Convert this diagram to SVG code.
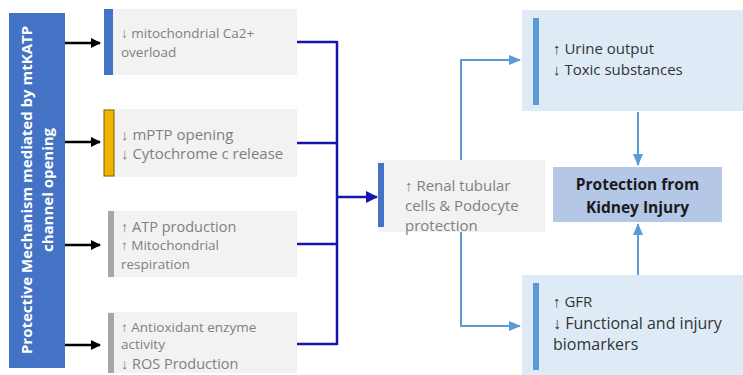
<svg xmlns="http://www.w3.org/2000/svg" width="743" height="375" viewBox="0 0 743 375">
<defs>
<style>
.gbox{fill:#f2f2f2}
.bbox{fill:#deebf7}
.gt{font-family:"Open Sans","Liberation Sans",sans-serif;fill:#808080}
.dt{font-family:"Open Sans","Liberation Sans",sans-serif;fill:#333}
.blk{stroke:#000;stroke-width:2.5;fill:none}
.dk{stroke:#1515b0;stroke-width:2.5;fill:none}
.lb{stroke:#5b9bd5;stroke-width:2;fill:none}
</style>
<marker id="mb" markerWidth="10" markerHeight="10" refX="9" refY="5" orient="auto" markerUnits="userSpaceOnUse"><path d="M0,0 L10,5 L0,10 z" fill="#000"/></marker>
<marker id="md" markerWidth="12" markerHeight="12" refX="11" refY="6" orient="auto" markerUnits="userSpaceOnUse"><path d="M0,0 L12,6 L0,12 z" fill="#1515b0"/></marker>
<marker id="ml" markerWidth="12" markerHeight="12" refX="11" refY="6" orient="auto" markerUnits="userSpaceOnUse"><path d="M0,1 L12,6 L0,11 z" fill="#5b9bd5"/></marker>
</defs>
<rect width="743" height="375" fill="#fff"/>

<g id="title">
<rect x="9" y="13" width="56" height="355" fill="#4472c4"/>
<text transform="translate(37,190) rotate(-90)" text-anchor="middle" font-family="'Open Sans','Liberation Sans',sans-serif" font-weight="bold" font-size="15" fill="#fff"><tspan x="0" y="-5">Protective Mechanism mediated by mtKATP</tspan><tspan x="0" y="16">channel opening</tspan></text>
</g>

<g id="n1">
<rect class="gbox" x="104" y="9" width="193" height="66"/>
<rect x="104" y="9" width="9" height="66" fill="#4472c4"/>
<text class="gt" x="121" y="38" font-size="13.5">↓ mitochondrial  Ca2+</text>
<text class="gt" x="121" y="57" font-size="13.5">overload</text>
</g>

<g id="n2">
<rect class="gbox" x="104" y="109" width="193" height="68"/>
<rect x="104" y="110" width="10" height="66" fill="#f0b400" stroke="#7f6000" stroke-width="1"/>
<text class="gt" x="121" y="140" font-size="15">↓ mPTP opening</text>
<text class="gt" x="121" y="159" font-size="15">↓ Cytochrome  c release</text>
</g>

<g id="n3">
<rect class="gbox" x="108" y="211" width="189" height="66"/>
<rect x="108" y="211" width="6" height="66" fill="#a6a6a6"/>
<text class="gt" x="121" y="232" font-size="14.5">↑ ATP production</text>
<text class="gt" x="121" y="250" font-size="13.5">↑ Mitochondrial</text>
<text class="gt" x="121" y="269" font-size="13.5">respiration</text>
</g>

<g id="n4">
<rect class="gbox" x="108" y="312" width="189" height="61"/>
<rect x="108" y="313" width="6" height="60" fill="#a6a6a6"/>
<text class="gt" x="121" y="332" font-size="13.5">↑ Antioxidant enzyme</text>
<text class="gt" x="121" y="349" font-size="13.5">activity</text>
<text class="gt" x="121" y="369" font-size="14.5">↓ ROS Production</text>
</g>

<g id="mid">
<rect class="gbox" x="378" y="160" width="167" height="72"/>
<rect x="378" y="163" width="6" height="64" fill="#4472c4"/>
<text class="gt" x="405" y="191" font-size="15">↑ Renal tubular</text>
<text class="gt" x="405" y="211" font-size="15">cells &amp; Podocyte</text>
<text class="gt" x="405" y="231" font-size="15">protection</text>
</g>

<g id="top">
<rect class="bbox" x="522" y="10" width="221" height="101"/>
<rect x="533" y="18" width="6" height="87" fill="#5b9bd5"/>
<text class="dt" x="553" y="54" font-size="15">↑ Urine output</text>
<text class="dt" x="553" y="75" font-size="15">↓ Toxic substances</text>
</g>

<g id="center">
<rect x="553" y="167" width="169" height="55" fill="#b4c7e7"/>
<text x="637.5" y="190" text-anchor="middle" font-family="'Open Sans','Liberation Sans',sans-serif" font-weight="bold" font-size="15.5" fill="#1a1a1a">Protection from</text>
<text x="637.5" y="213" text-anchor="middle" font-family="'Open Sans','Liberation Sans',sans-serif" font-weight="bold" font-size="15.5" fill="#1a1a1a">Kidney Injury</text>
</g>

<g id="bottom">
<rect class="bbox" x="522" y="275" width="221" height="100"/>
<rect x="533" y="283" width="6" height="87" fill="#5b9bd5"/>
<text class="dt" x="553" y="307" font-size="15">↑ GFR</text>
<text class="dt" x="553" y="329" font-size="16">↓ Functional and injury</text>
<text class="dt" x="553" y="350" font-size="16">biomarkers</text>
</g>

<g id="connectors">
<line class="blk" x1="65" y1="43" x2="100" y2="43" marker-end="url(#mb)"/>
<line class="blk" x1="65" y1="142" x2="100" y2="142" marker-end="url(#mb)"/>
<line class="blk" x1="65" y1="245" x2="100" y2="245" marker-end="url(#mb)"/>
<line class="blk" x1="65" y1="345" x2="100" y2="345" marker-end="url(#mb)"/>
<path class="dk" d="M297,42 H337 M297,143 H337 M297,244 H337 M297,344 H337 M337,41 V345"/>
<line class="dk" x1="337" y1="197" x2="377" y2="197" marker-end="url(#md)"/>
<path class="lb" d="M461,160 V60 H520" marker-end="url(#ml)"/>
<path class="lb" d="M461,232 V326 H520" marker-end="url(#ml)"/>
<line class="lb" x1="638" y1="112" x2="638" y2="165" marker-end="url(#ml)"/>
<line class="lb" x1="638" y1="275" x2="638" y2="224" marker-end="url(#ml)"/>
</g>
</svg>
